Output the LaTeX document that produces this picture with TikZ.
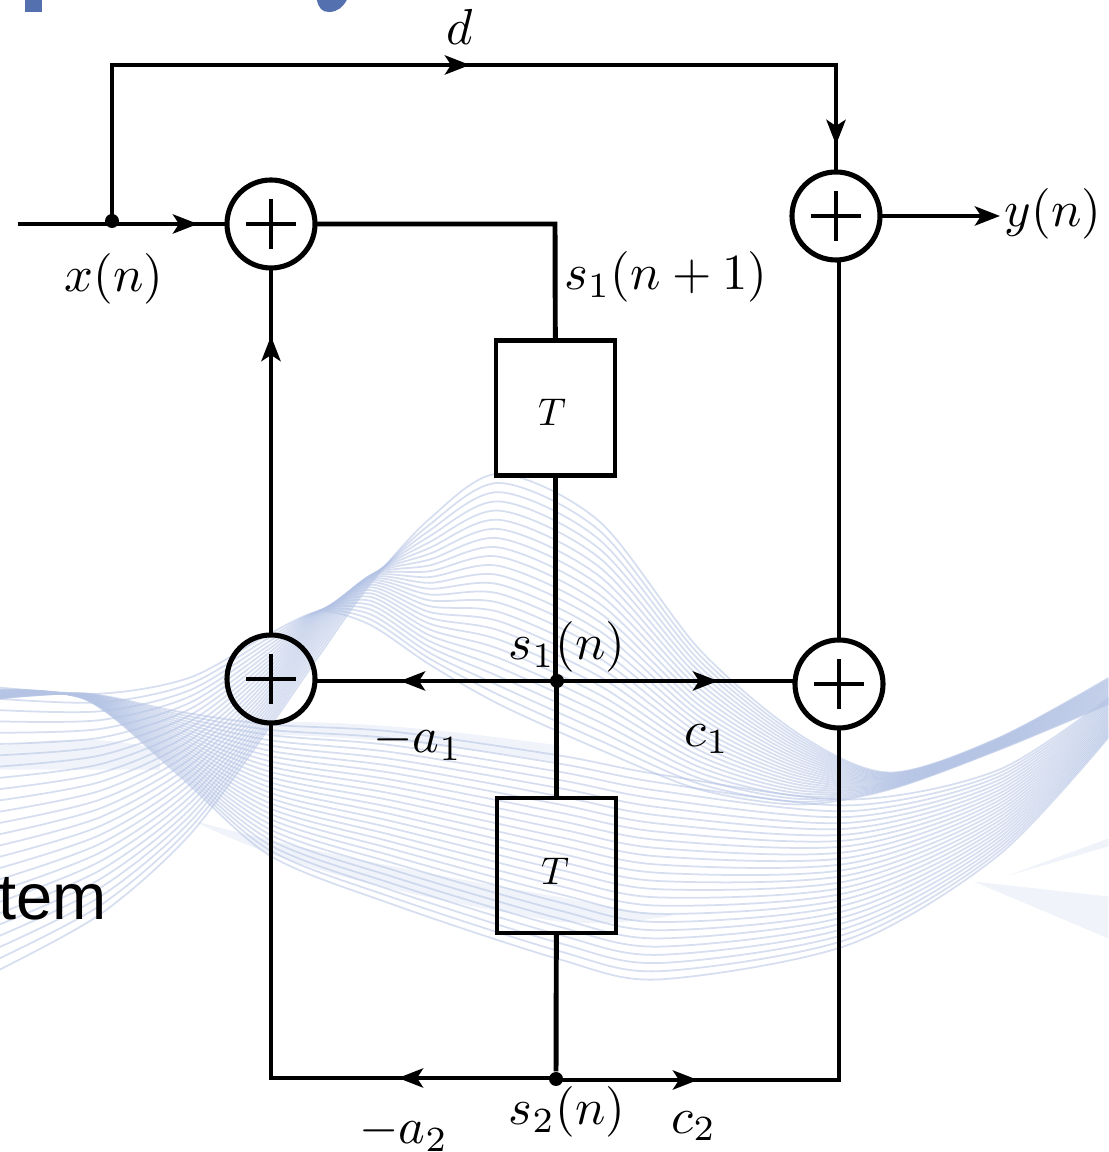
\documentclass[tikz,border=0pt]{standalone}
\usepackage{amssymb,amsmath}
\usepackage{fontspec}
\usepackage{tikz}
\usetikzlibrary{arrows.meta}
\newfontfamily\slidefont{Liberation Sans}
\definecolor{wavecol}{HTML}{B4C3E4}
\definecolor{titlecol}{HTML}{5570AE}
\newcommand{\lerp}[2]{#1+(#2-(#1))*\t}
\tikzset{
  wire/.style={line width=1.4pt},
  tipwire/.style={line width=1.4pt,-{Stealth[length=0.25cm,width=0.19cm,inset=0.06cm]}},
  adder/.style={circle,draw,line width=1.45pt,minimum size=0.88cm,inner sep=0pt,outer sep=0pt,
    path picture={
      \draw[line width=1.4pt] (path picture bounding box.center) +(-0.25,0) -- +(0.25,0);
      \draw[line width=1.4pt] (path picture bounding box.center) +(0,-0.25) -- +(0,0.25);}},
  delay/.style={rectangle,draw,line width=1.4pt,minimum width=1.19cm,minimum height=1.35cm,outer sep=0pt,inner sep=0pt},
  junction/.style={circle,fill=black,inner sep=0pt,minimum size=0.14cm},
  lab/.style={scale=1.44,inner sep=0pt},
  wave/.style={draw=wavecol,line width=0.5pt,opacity=0.55},
  paleband/.style={fill=wavecol,opacity=0.2,draw=none}
}
\begin{document}
\begin{tikzpicture}
\useasboundingbox (0,0) rectangle (11.09,11.52);

% background of the slide
\begin{scope}[x=0.01cm,y=-0.01cm,yshift=11.52cm]
    \clip (0,0) rectangle (1109,1152);
    \fill[titlecol] (25,0) rectangle (42,12);
    \fill[titlecol] (317,0) .. controls (319,8) and (322,12) .. (329,12) .. controls (338,12) and (343,7) .. (347,0) -- cycle;
    \fill[paleband] (271,722) .. controls (380,722) and (480,735) .. (560,746) -- (560,763) .. controls (480,750) and (380,738) .. (271,735) -- cycle;
    \fill[paleband] (193,821) .. controls (300,850) and (430,875) .. (557,897) .. controls (600,905) and (640,915) .. (680,915) .. controls (620,925) and (590,925) .. (557,922) .. controls (430,900) and (300,875) .. (193,821) -- cycle;
    \fill[paleband] (0,746) .. controls (50,740) and (100,735) .. (160,750) -- (160,770) .. controls (100,770) and (50,770) .. (0,770) -- cycle;
    \fill[paleband] (1006,877) -- (1109,839) -- (1109,847) -- cycle;
    \fill[paleband] (974,882) -- (1109,897) -- (1109,939) -- cycle;
    \foreach \t in {0,0.04,...,1.001} {
        \draw[wave] plot[smooth] coordinates {(-10,{\lerp{975}{687}}) (100,{\lerp{915}{694}}) (190,{\lerp{835}{678}})
            (270,{\lerp{727}{634}}) (320,{\lerp{655}{612}-60*\t*(1-\t)}) (370,{\lerp{585}{625}-100*\t*(1-\t)}) (430,{\lerp{519}{665}}) (500,{\lerp{474}{705}})
            (600,{\lerp{522}{750}}) (700,{\lerp{650}{790}}) (800,{\lerp{735}{805}}) (890,{\lerp{773}{790}})
            (1000,{\lerp{738}{750}}) (1120,{\lerp{672}{700}})};
        \draw[wave] plot[smooth] coordinates {(-10,{\lerp{700}{690}}) (86,{\lerp{694}{700}}) (178,{\lerp{712}{775}})
            (270,{\lerp{725}{856}}) (393,{\lerp{732}{905}}) (560,{\lerp{756}{960}}) (660,{\lerp{775}{980}})
            (850,{\lerp{800}{945}}) (1000,{\lerp{770}{855}}) (1120,{\lerp{690}{725}})};
    }
\end{scope}
\node[anchor=base east,inner sep=0pt,font=\slidefont,scale=1.85] (stemtext) at (1.08,2.32) {stem};

% blocks
\node[adder] (addin) at (2.71,9.28) {};
\node[adder] (addout) at (8.36,9.36) {};
\node[adder] (addfb) at (2.71,4.73) {};
\node[adder] (addff) at (8.39,4.68) {};
\node[delay] (delayA) at (5.555,7.44) {};
\node[delay] (delayB) at (5.565,2.865) {};
\node[scale=1.1] (tA) at (5.52,7.40) {$T$};
\node[scale=1.1] (tB) at (5.55,2.81) {$T$};

% junctions
\node[junction] (in) at (1.12,9.31) {};
\node[junction] (sA) at (5.57,4.71) {};
\node[junction] (sB) at (5.56,0.73) {};

% free ends, corners, places of the arrow tips
\coordinate (start) at (0.18,9.28);
\coordinate (topL) at (1.12,10.87);
\coordinate (topR) at (8.36,10.87);
\coordinate (turn) at (5.55,9.28);
\coordinate (botL) at (2.71,0.74);
\coordinate (botR) at (8.39,0.72);
\coordinate (outEnd) at (10.00,9.36);
\coordinate (tipIn) at (1.98,9.28);
\coordinate (tipD) at (4.70,10.87);
\coordinate (tipDown) at (8.36,10.07);
\coordinate (tipUp) at (2.71,8.16);
\coordinate (tipAa) at (4.00,4.71);
\coordinate (tipCa) at (7.18,4.71);
\coordinate (tipAb) at (3.98,0.74);
\coordinate (tipCb) at (6.98,0.72);

% connectors
\draw[wire] (start) -- (addin);
\draw[tipwire] (start -| in) -- (tipIn);
\draw[wire,line cap=rect] (in) -- (topL);
\draw[wire,line cap=rect] (topL) -- (topR);
\draw[tipwire] (topL) -- (tipD);
\draw[wire] (topR) -- (addout);
\draw[tipwire] (topR) -- (tipDown);
\draw[tipwire] (addout) -- (outEnd);
\draw[wire,line join=miter] (addin) -- (turn) -- (delayA);
\draw[wire] (delayA) -- (delayA |- sA);
\draw[wire] (delayB |- sA) -- (delayB);
\draw[wire] (delayB) -- (sB);
\draw[wire] (addfb.east |- sA) -- (addff.west |- sA);
\draw[tipwire] (sA) -- (tipAa);
\draw[tipwire] (sA) -- (tipCa);
\draw[wire] (addfb) -- (addin);
\draw[tipwire] (addfb) -- (tipUp);
\draw[wire] (addff) -- (addff |- addout.south);
\draw[wire] (addfb) -- (botL);
\draw[wire] (addff) -- (botR);
\draw[wire,line cap=rect] (sB |- botL) -- (botL);
\draw[tipwire] (sB |- botL) -- (tipAb);
\draw[wire,line cap=rect] (sB |- botR) -- (botR);
\draw[tipwire] (sB |- botR) -- (tipCb);

% labels
\node[lab] (labD) at (4.60,11.25) {$d$};
\node[lab] (labX) at (1.14,8.73) {$x(n)$};
\node[lab] (labSnext) at (6.66,8.75) {$s_1(n+1)$};
\node[lab] (labY) at (10.53,9.38) {$y(n)$};
\node[lab] (labSa) at (5.67,5.05) {$s_1(n)$};
\node[lab] (labAa) at (4.18,4.10) {$-a_1$};
\node[lab] (labCa) at (7.07,4.13) {$c_1$};
\node[lab] (labSb) at (5.67,0.40) {$s_2(n)$};
\node[lab] (labAb) at (4.04,0.19) {$-a_2$};
\node[lab] (labCb) at (6.94,0.26) {$c_2$};
\end{tikzpicture}
\end{document}
